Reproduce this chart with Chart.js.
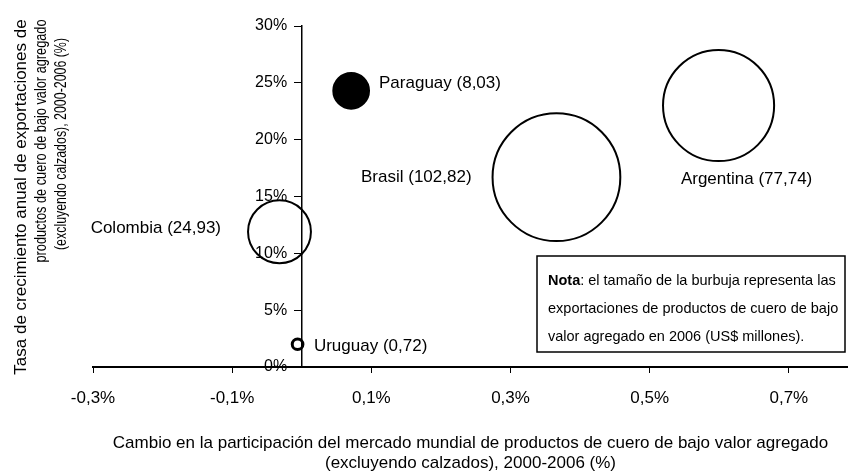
<!DOCTYPE html>
<html>
<head>
<meta charset="utf-8">
<script src="https://cdn.jsdelivr.net/npm/chart.js@4.4.1/dist/chart.umd.min.js"></script>
<style>
    html, body { margin: 0; padding: 0; background: #fff; }
    #wrap { width: 848px; height: 474px; position: relative; }
</style>
</head>
<body>
<div id="wrap"><canvas id="chart"></canvas></div>
<script>
// Datos
const countries = ['Colombia', 'Paraguay', 'Brasil', 'Argentina', 'Uruguay'];
const shareChange = [-0.032, 0.071, 0.366, 0.599, -0.006];   // eje X (%)
const exportGrowth = [11.9, 24.3, 16.7, 23.0, 2.0];          // eje Y (%)
const exports2006 = [24.93, 8.03, 102.82, 77.74, 0.72];      // tamaño de burbuja (US$ millones)
const xTickValues = [-0.3, -0.1, 0.1, 0.3, 0.5, 0.7];
const yTickValues = [0, 5, 10, 15, 20, 25, 30];

const FONT = "'Liberation Sans', Arial, sans-serif";

// Ubicación de las etiquetas respecto a cada burbuja
const labelPlacement = {
    Colombia:  { side: 'left',  gap: 27, dy: -3 },
    Paraguay:  { side: 'right', gap: 10, dy: -7 },
    Brasil:    { side: 'left',  gap: 21, dy: 0 },
    Argentina: { side: 'below', gap: 18, dx: 28 },
    Uruguay:   { side: 'right', gap: 11, dy: 2 }
};

const fmt = (v, d) => v.toFixed(d).replace('.', ',');

// Etiquetas de las burbujas
const bubbleLabels = {
    id: 'bubbleLabels',
    afterDatasetsDraw(chart) {
        const ctx = chart.ctx;
        const meta = chart.getDatasetMeta(0);
        ctx.save();
        ctx.font = '17px ' + FONT;
        ctx.fillStyle = '#000';
        ctx.textBaseline = 'middle';
        meta.data.forEach((el, i) => {
            const name = countries[i];
            const p = labelPlacement[name];
            const r = el.options.radius;
            const text = name + ' (' + fmt(exports2006[i], 2) + ')';
            let x, y;
            if (p.side === 'left') {
                ctx.textAlign = 'right';
                x = el.x - r - p.gap; y = el.y + p.dy;
            } else if (p.side === 'right') {
                ctx.textAlign = 'left';
                x = el.x + r + p.gap; y = el.y + p.dy;
            } else {
                ctx.textAlign = 'center';
                x = el.x + p.dx; y = el.y + r + p.gap;
            }
            ctx.fillText(text, x, y);
        });
        ctx.restore();
    }
};

// Título del eje Y (tres líneas, girado) y recuadro de nota
const extras = {
    id: 'extras',
    afterDraw(chart) {
        const ctx = chart.ctx;
        ctx.save();
        ctx.fillStyle = '#000';
        ctx.font = '17px ' + FONT;
        ctx.textAlign = 'center';
        ctx.textBaseline = 'middle';
        // [texto, x, y centro, ancho máx.]
        const yTitle = [
            ['Tasa de crecimiento anual de exportaciones de', 21, 197, 367],
            ['productos de cuero de bajo valor agregado', 41, 141, 243],
            ['(excluyendo calzados), 2000-2006 (%)', 61, 144, 212]
        ];
        yTitle.forEach(([t, x, y, mw]) => {
            ctx.save();
            ctx.translate(x, y);
            ctx.rotate(-Math.PI / 2);
            ctx.fillText(t, 0, 0, mw);
            ctx.restore();
        });

        // Nota
        const bx = 537, by = 256, bw = 308, bh = 96;
        ctx.fillStyle = '#fff';
        ctx.fillRect(bx, by, bw, bh);
        ctx.strokeStyle = '#000';
        ctx.lineWidth = 1.5;
        ctx.strokeRect(bx, by, bw, bh);
        ctx.fillStyle = '#000';
        ctx.textAlign = 'left';
        ctx.font = 'bold 14.5px ' + FONT;
        const lead = 'Nota';
        ctx.fillText(lead, bx + 11, by + 25);
        const w = ctx.measureText(lead).width;
        ctx.font = '14.5px ' + FONT;
        ctx.fillText(': el tamaño de la burbuja representa las', bx + 11 + w, by + 25);
        ctx.fillText('exportaciones de productos de cuero de bajo', bx + 11, by + 53);
        ctx.fillText('valor agregado en 2006 (US$ millones).', bx + 11, by + 81);
        ctx.restore();
    }
};

document.addEventListener('DOMContentLoaded', () => {
    const ctx = document.getElementById('chart').getContext('2d');

    const points = countries.map((c, i) => ({
        x: shareChange[i],
        y: exportGrowth[i],
        r: 6.3 * Math.sqrt(exports2006[i])
    }));

    const yTicks = s => { s.ticks = yTickValues.map(v => ({ value: v })); };

    new Chart(ctx, {
        type: 'bubble',
        data: {
            datasets: [{
                data: points,
                backgroundColor: countries.map(c => c === 'Paraguay' ? '#000' : 'rgba(255,255,255,0)'),
                borderColor: '#000',
                borderWidth: countries.map(c => c === 'Uruguay' ? 3 : 2),
                clip: false
            }]
        },
        options: {
            responsive: true,
            maintainAspectRatio: false,
            animation: false,
            layout: { autoPadding: false, padding: { left: 93, top: 26, right: 0, bottom: 0 } },
            plugins: {
                legend: { display: false },
                tooltip: { enabled: false }
            },
            scales: {
                x: {
                    type: 'linear',
                    position: 'bottom',
                    min: -0.3,
                    max: 0.785,
                    afterBuildTicks: s => { s.ticks = xTickValues.map(v => ({ value: v })); },
                    border: { display: true, color: '#000', width: 2 },
                    grid: { drawOnChartArea: false, drawTicks: true, tickLength: 6, color: '#000' },
                    ticks: {
                        color: '#000',
                        padding: 15,
                        maxRotation: 0,
                        font: { family: FONT, size: 17, lineHeight: 1.2 },
                        callback: v => fmt(v, 1) + '%'
                    },
                    title: {
                        display: true,
                        color: '#000',
                        text: [
                            'Cambio en la participación del mercado mundial de productos de cuero de bajo valor agregado',
                            '(excluyendo calzados), 2000-2006 (%)'
                        ],
                        font: { family: FONT, size: 17, lineHeight: '20px' },
                        padding: { top: 9.6, bottom: 1 }
                    }
                },
                // eje Y: línea y marcas en x = 0
                y: {
                    type: 'linear',
                    position: { x: 0 },
                    min: 0,
                    max: 30,
                    afterBuildTicks: yTicks,
                    border: { display: true, color: '#000', width: 1.5 },
                    grid: { drawOnChartArea: false, drawTicks: true, tickLength: 7, color: '#000' },
                    ticks: { display: false }
                },
                // etiquetas del eje Y, un poco a la izquierda de las marcas
                yLabels: {
                    type: 'linear',
                    position: { x: -0.021 },
                    min: 0,
                    max: 30,
                    afterBuildTicks: yTicks,
                    border: { display: false },
                    grid: { display: false },
                    ticks: {
                        color: '#000',
                        font: { family: FONT, size: 16 },
                        callback: v => v + '%'
                    }
                }
            }
        },
        plugins: [bubbleLabels, extras]
    });
});
</script>
</body>
</html>
